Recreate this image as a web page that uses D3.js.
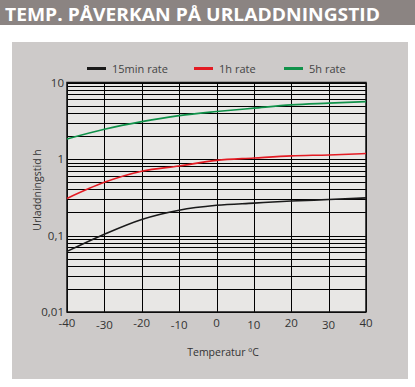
<!DOCTYPE html>
<html>
<head>
<meta charset="utf-8">
<script src="https://cdn.jsdelivr.net/npm/d3@7"></script>
<style>
  body { margin: 0; background: #fff; }
  svg { display: block; }
  text { font-family: "Open Sans", sans-serif; }
</style>
</head>
<body>
<svg id="chart" width="415" height="387"></svg>
<script>
// Data
const temps = [-40, -30, -20, -10, 0, 10, 20, 30, 40];
const rate15min = [0.062, 0.104, 0.162, 0.214, 0.248, 0.265, 0.282, 0.295, 0.31];
const rate1h = [0.305, 0.495, 0.69, 0.81, 0.96, 1.03, 1.1, 1.13, 1.18];
const rate5h = [1.83, 2.45, 3.08, 3.69, 4.17, 4.62, 5.1, 5.37, 5.63];
const yTicks = [0.01, 0.1, 1, 10];
const yTickLabels = ["0,01", "0,1", "1", "10"];
const seriesNames = ["15min rate", "1h rate", "5h rate"];
const seriesColors = ["#1a1a1a", "#e31b23", "#10924a"];

const svg = d3.select("#chart");

// title bar
svg.append("rect").attr("x", 0).attr("y", 0).attr("width", 415).attr("height", 25).attr("fill", "#8b8482");
svg.append("text")
  .attr("x", 5).attr("y", 21)
  .attr("fill", "#fff")
  .attr("font-size", 18.5)
  .attr("font-weight", "bold")
  .attr("textLength", 375)
  .attr("lengthAdjust", "spacingAndGlyphs")
  .text("TEMP. PÅVERKAN PÅ URLADDNINGSTID");

// panel
svg.append("rect").attr("x", 12).attr("y", 42).attr("width", 396).attr("height", 337).attr("fill", "#cdcac9");

const plot = { left: 67, right: 366, top: 82.5, bottom: 312 };

const x = d3.scaleLinear().domain([-40, 40]).range([plot.left, plot.right]);
const y = d3.scaleLog().domain([0.01, 10]).range([plot.bottom, plot.top]);

svg.append("rect")
  .attr("x", plot.left).attr("y", plot.top)
  .attr("width", plot.right - plot.left).attr("height", plot.bottom - plot.top)
  .attr("fill", "#e8e7e5");

// horizontal grid at every log tick
const minor = [];
for (let d = 0.01; d < 10; d *= 10) {
  for (let k = 1; k <= 9; k++) minor.push(+(d * k).toPrecision(3));
}
minor.push(10);
const grid = svg.append("g").attr("shape-rendering", "crispEdges");
grid.selectAll("line.h").data(minor).join("line")
  .attr("class", "h")
  .attr("x1", plot.left).attr("x2", plot.right)
  .attr("y1", d => Math.round(y(d)) + 0.5).attr("y2", d => Math.round(y(d)) + 0.5)
  .attr("stroke", "#000").attr("stroke-width", 1);

// vertical grid
grid.selectAll("line.v").data(temps).join("line")
  .attr("class", "v")
  .attr("x1", d => Math.round(x(d)) + 0.5).attr("x2", d => Math.round(x(d)) + 0.5)
  .attr("y1", plot.top).attr("y2", plot.bottom)
  .attr("stroke", "#000").attr("stroke-width", 1);

// frame
svg.append("rect")
  .attr("x", plot.left).attr("y", plot.top)
  .attr("width", plot.right - plot.left).attr("height", plot.bottom - plot.top)
  .attr("fill", "none").attr("stroke", "#111").attr("stroke-width", 1.5);

// curves
const line = d3.line().x(d => x(d[0])).y(d => y(d[1])).curve(d3.curveMonotoneX);
[rate15min, rate1h, rate5h].forEach((vals, i) => {
  svg.append("path")
    .datum(temps.map((t, j) => [t, vals[j]]))
    .attr("d", line)
    .attr("fill", "none")
    .attr("stroke", seriesColors[i])
    .attr("stroke-width", 1.6);
});

// y tick labels
svg.append("g").selectAll("text").data(yTicks).join("text")
  .attr("x", plot.left - 3).attr("y", d => y(d) + 4)
  .attr("text-anchor", "end")
  .attr("font-size", 11.5).attr("fill", "#333")
  .text((d, i) => yTickLabels[i]);

// x tick labels (staggered like the original)
svg.append("g").selectAll("text").data(temps).join("text")
  .attr("x", d => x(d)).attr("y", (d, i) => (i % 2 ? 329 : 326.5))
  .attr("text-anchor", "middle")
  .attr("font-size", 11.5).attr("fill", "#333")
  .text(d => d);

// axis titles
svg.append("text")
  .attr("x", 223).attr("y", 356)
  .attr("text-anchor", "middle")
  .attr("font-size", 10.5).attr("fill", "#333")
  .text("Temperatur ºC");

svg.append("text")
  .attr("transform", "translate(41,190) rotate(-90)")
  .attr("text-anchor", "middle")
  .attr("font-size", 10.5).attr("fill", "#333")
  .text("Urladdningstid h");

// legend
const legendX = [87, 194, 284];
const legend = svg.append("g").selectAll("g").data(seriesNames).join("g")
  .attr("transform", (d, i) => `translate(${legendX[i]},68.5)`);
legend.append("line")
  .attr("x1", 0).attr("x2", 19)
  .attr("stroke", (d, i) => seriesColors[i]).attr("stroke-width", 3);
legend.append("text")
  .attr("x", 25).attr("y", 4)
  .attr("font-size", 11).attr("fill", "#444")
  .text(d => d);
</script>
</body>
</html>
